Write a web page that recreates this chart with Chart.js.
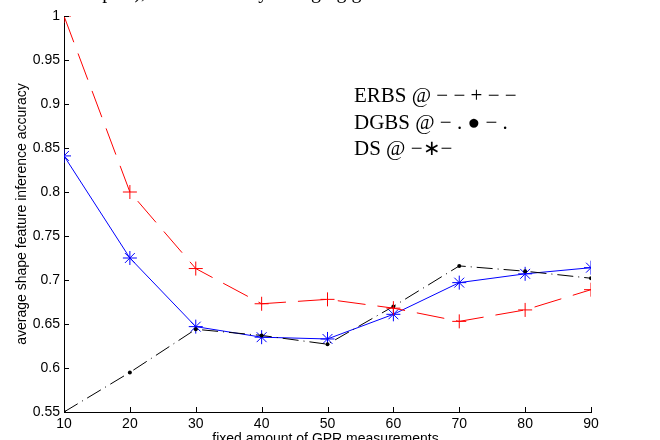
<!DOCTYPE html>
<html>
<head>
<meta charset="utf-8">
<script src="https://cdn.jsdelivr.net/npm/chart.js@4"></script>
<style>
html,body{margin:0;padding:0;background:#fff;}
#wrap{width:660px;height:440px;position:relative;}
</style>
</head>
<body>
<div id="wrap"><canvas id="c" width="660" height="440"></canvas></div>
<script>
// ---- data ----
const xs    = [10, 20, 30, 40, 50, 60, 70, 80, 90];
const erbs  = [1.000, 0.800, 0.713, 0.673, 0.678, 0.668, 0.653, 0.666, 0.689];
const dgbs  = [0.550, 0.595, 0.644, 0.637, 0.627, 0.670, 0.716, 0.710, 0.702];
const ds    = [0.841, 0.725, 0.647, 0.635, 0.633, 0.661, 0.697, 0.707, 0.714];
const xTicks = [10, 20, 30, 40, 50, 60, 70, 80, 90];
const yTicks = [0.55, 0.6, 0.65, 0.7, 0.75, 0.8, 0.85, 0.9, 0.95, 1];
const legendLines = ["ERBS @ \u2212 \u2212 + \u2212 \u2212", "DGBS @ \u2212 . \u25CF \u2212 .", "DS @ \u2212\u2217\u2212"];
const topCaption = "samples), with randomly changing geo";
const xTitle = "fixed amount of GPR measurements";

const pts = arr => arr.map((v,i)=>({x: xs[i], y: v}));
const sans = '"Liberation Sans", Arial, sans-serif';

// inward ticks, MATLAB style + text overlays
const extras = {
  id: "extras",
  afterDraw(chart){
    const {ctx, chartArea:a, scales:{x, y}} = chart;
    ctx.save();
    ctx.strokeStyle = "#000";
    ctx.lineWidth = 1;
    ctx.beginPath();
    xTicks.forEach(t=>{
      const px = Math.round(x.getPixelForValue(t)) + 0.5;
      ctx.moveTo(px, a.bottom); ctx.lineTo(px, a.bottom - 5);
    });
    yTicks.forEach(t=>{
      const py = Math.round(y.getPixelForValue(t)) + 0.5;
      ctx.moveTo(a.left, py); ctx.lineTo(a.left + 5, py);
    });
    ctx.stroke();
    ctx.fillStyle = "#000";
    ctx.textBaseline = "alphabetic";
    // x axis title (cut by the bottom edge like the original)
    ctx.font = "14px " + sans;
    ctx.textAlign = "center";
    ctx.fillText(xTitle, (a.left + a.right) / 2 - 2, 443);
    // legend text
    ctx.textAlign = "left";
    ctx.font = '21px "Liberation Serif", "Times New Roman", serif';
    legendLines.forEach((s,i)=> ctx.fillText(s, 354, 102 + i*26.5));
    // clipped caption at the top
    ctx.font = '20px "Liberation Serif", serif';
    ctx.fillText(topCaption, 70, -2);
    ctx.restore();
  }
};

new Chart(document.getElementById("c"), {
  type: "line",
  data: {
    datasets: [
      { label: "ERBS", data: pts(erbs), borderColor: "#ff0000", backgroundColor: "#ff0000",
        borderWidth: 1, borderDash: [28, 12], pointStyle: "cross", pointRadius: 7,
        pointBorderWidth: 1, pointBorderColor: "#ff0000", fill: false, tension: 0 },
      { label: "DGBS", data: pts(dgbs), borderColor: "#000000", backgroundColor: "#000000",
        borderWidth: 1, borderDash: [16, 5, 1, 5], pointStyle: "circle", pointRadius: 2,
        pointBorderWidth: 0, fill: false, tension: 0 },
      { label: "DS", data: pts(ds), borderColor: "#0000ff", backgroundColor: "#0000ff",
        borderWidth: 1, pointStyle: "star", pointRadius: 7,
        pointBorderWidth: 1, pointBorderColor: "#0000ff", fill: false, tension: 0 }
    ]
  },
  options: {
    responsive: false,
    animation: false,
    layout: { padding: { top: 16, right: 69, left: 0, bottom: 0 } },
    plugins: { legend: { display: false }, tooltip: { enabled: false } },
    scales: {
      x: {
        type: "linear", min: 10, max: 90,
        afterBuildTicks: s => { s.ticks = xTicks.map(v=>({value: v})); },
        afterFit: s => { s.height = 28; },
        grid: { drawOnChartArea: false, drawTicks: false },
        border: { display: true, color: "#000", width: 1 },
        ticks: { color: "#000", padding: 4, maxRotation: 0, font: { family: sans, size: 14 } },
        title: { display: false }
      },
      y: {
        min: 0.55, max: 1,
        afterBuildTicks: s => { s.ticks = yTicks.map(v=>({value: v})); },
        afterFit: s => { s.width = 64; },
        grid: { drawOnChartArea: false, drawTicks: false },
        border: { display: true, color: "#000", width: 1 },
        ticks: { color: "#000", padding: 4, callback: v => String(+v.toFixed(2)),
                 font: { family: sans, size: 14 } },
        title: { display: true, text: "average shape feature inference accuracy", color: "#000",
                 padding: { top: 14, bottom: 0 }, font: { family: sans, size: 14 } }
      }
    }
  },
  plugins: [extras]
});
</script>
</body>
</html>
